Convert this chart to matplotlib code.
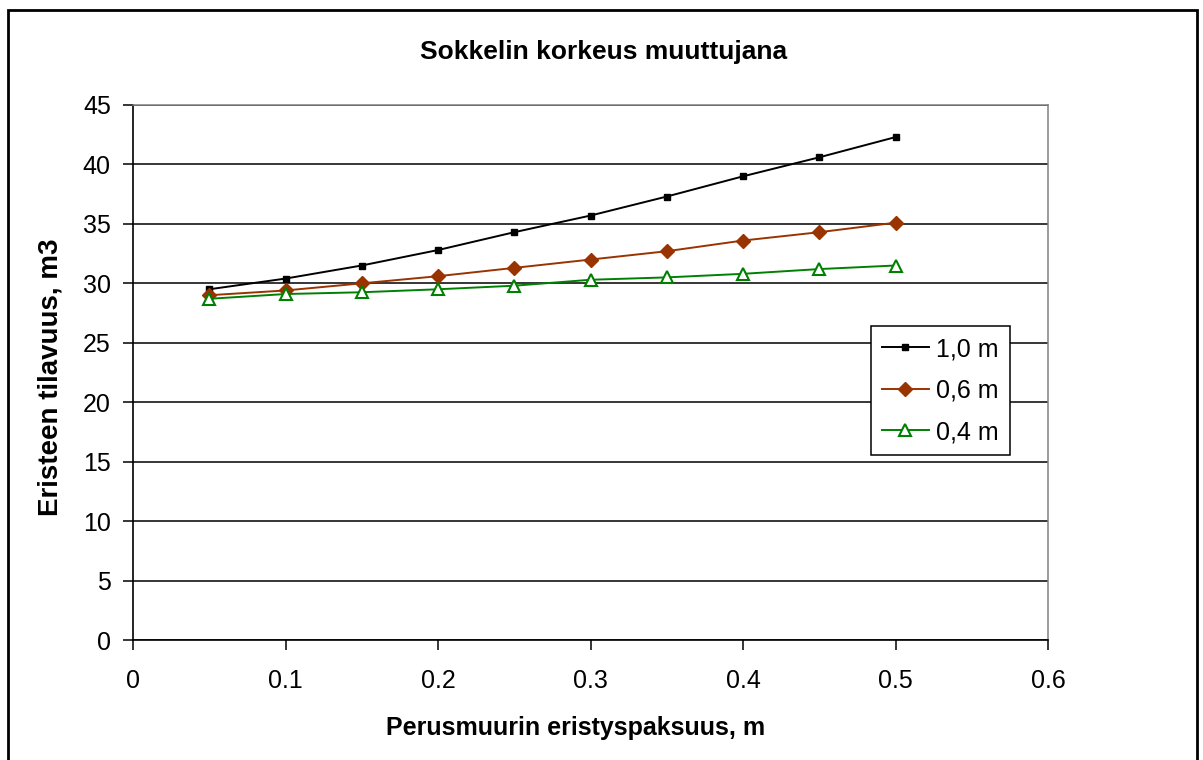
"""
Sokkelin korkeus muuttujana
Generates: out.png
"""
import matplotlib
matplotlib.use("Agg")
import matplotlib.pyplot as plt
from matplotlib.patches import Rectangle

thickness = [0.05, 0.10, 0.15, 0.20, 0.25, 0.30, 0.35, 0.40, 0.45, 0.50]
vol_10 = [29.5, 30.4, 31.5, 32.8, 34.3, 35.7, 37.3, 39.0, 40.6, 42.3]
vol_06 = [29.0, 29.4, 30.0, 30.6, 31.3, 32.0, 32.7, 33.6, 34.3, 35.1]
vol_04 = [28.7, 29.1, 29.25, 29.5, 29.8, 30.3, 30.5, 30.8, 31.2, 31.5]
series_labels = ["1,0 m", "0,6 m", "0,4 m"]
x_ticks = [0, 0.1, 0.2, 0.3, 0.4, 0.5, 0.6]
y_ticks = list(range(0, 50, 5))

plt.rcParams["font.family"] = ["Liberation Sans", "DejaVu Sans"]

fig = plt.figure(figsize=(12.03, 7.6), dpi=100)
ax = fig.add_axes([133 / 1203, 120 / 760, 915 / 1203, 535 / 760])

ax.plot(thickness, vol_10, color="black", lw=1.4, marker="s", ms=5,
        mfc="black", mec="black", label=series_labels[0], zorder=3)
ax.plot(thickness, vol_06, color="#993300", lw=1.4, marker="D", ms=7,
        mfc="#993300", mec="#993300", label=series_labels[1], zorder=3)
ax.plot(thickness, vol_04, color="#008000", lw=1.4, marker="^", ms=9,
        mfc="white", mec="#008000", mew=1.5, label=series_labels[2], zorder=3)

ax.set_xlim(0, 0.6)
ax.set_ylim(0, 45)
ax.set_xticks(x_ticks)
ax.set_xticklabels([f"{t:g}" for t in x_ticks])
ax.set_yticks(y_ticks)
ax.yaxis.grid(True, color="black", lw=1.1)
ax.set_axisbelow(True)
ax.tick_params(axis="both", direction="out", length=7, width=1.1, labelsize=18)
ax.tick_params(axis="x", pad=14)
ax.tick_params(axis="y", pad=9)

for side in ("left", "bottom"):
    ax.spines[side].set_color("black")
    ax.spines[side].set_linewidth(1.2)
for side in ("top", "right"):
    ax.spines[side].set_color("#808080")
    ax.spines[side].set_linewidth(1.1)

ax.set_xlabel("Perusmuurin eristyspaksuus, m", fontsize=18, fontweight="bold")
ax.set_ylabel("Eristeen tilavuus, m3", fontsize=20, fontweight="bold")
ax.xaxis.set_label_coords(0.484, -0.164)
ax.yaxis.set_label_coords(-0.0907, 0.4916)
ax.xaxis.label.set_va("center")
ax.yaxis.label.set_va("center")
fig.text(604 / 1203, 1 - 52 / 760, "Sokkelin korkeus muuttujana", ha="center", va="center",
         fontsize=19, fontweight="bold")

leg = ax.legend(loc="upper left", bbox_to_anchor=(0.8066, 0.587), fontsize=18,
                frameon=True, fancybox=False, edgecolor="black", handlelength=1.85,
                handletextpad=0.3, borderpad=0.45, labelspacing=0.7, borderaxespad=0)
leg.get_frame().set_linewidth(1.1)
leg.get_frame().set_facecolor("white")
leg.get_frame().set_alpha(1)

fig.patches.append(Rectangle((8 / 1203, -0.02), 1189 / 1203, 1.02 - 10 / 760,
                             transform=fig.transFigure, fill=False, edgecolor="black",
                             lw=2, clip_on=False))

fig.savefig("out.png", dpi=100, facecolor="white")
